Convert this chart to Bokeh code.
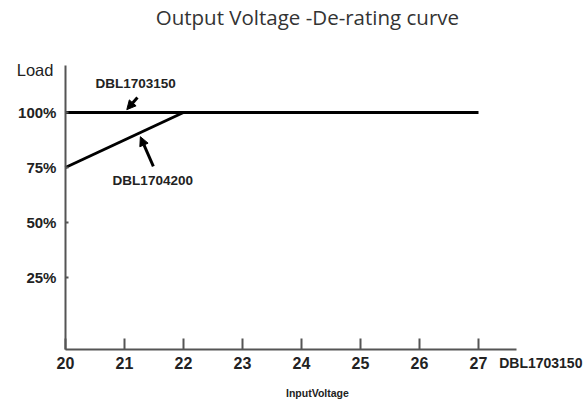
from bokeh.plotting import figure
from bokeh.models import Range1d, Label, Arrow, NormalHead, FixedTicker
from bokeh.embed import file_html
from bokeh.resources import INLINE

# ---- data ----
x_ticks = [20, 21, 22, 23, 24, 25, 26, 27]
y_ticks = [25, 50, 75, 100]
y_tick_labels = ["25%", "50%", "75%", "100%"]

v_1703150 = [20, 27]
load_1703150 = [100, 100]
v_1704200 = [20, 22]
load_1704200 = [75, 100]

title_text = "Output Voltage -De-rating curve"
x_title = "InputVoltage"
y_title = "Load"
FONT = "Liberation Sans"

X0, X1 = 20, 27.64     # drawn extent of x axis
Y0, Y1 = -7.7, 121.4   # drawn extent of y axis

W, H = 586, 402
p = figure(width=W, height=H, output_backend="svg", toolbar_location=None,
           x_range=Range1d(18.9, 28.83), y_range=Range1d(-31.8, 150.9),
           min_border=0)
p.background_fill_color = "white"
p.border_fill_color = "white"
p.outline_line_color = None
p.grid.visible = False

# axes placed inside the frame
p.xaxis.fixed_location = Y0
p.xaxis.bounds = (X0, X1)
p.yaxis.fixed_location = X0
p.yaxis.bounds = (Y0, Y1)

for ax in (p.xaxis[0], p.yaxis[0]):
    ax.axis_line_color = "#555555"
    ax.axis_line_width = 2
    ax.major_tick_line_color = "#555555"
    ax.major_tick_line_width = 2
    ax.minor_tick_line_color = None
    ax.major_tick_out = 0
    ax.major_label_text_font = FONT
    ax.major_label_text_font_style = "bold"
    ax.major_label_text_color = "#222222"

p.xaxis.ticker = FixedTicker(ticks=x_ticks)
p.xaxis.major_tick_in = 11
p.xaxis.major_label_text_font_size = "16px"
p.xaxis.major_label_standoff = 8

p.yaxis.ticker = FixedTicker(ticks=y_ticks)
p.yaxis.major_label_overrides = {t: l for t, l in zip(y_ticks, y_tick_labels)}
p.yaxis.major_tick_in = 3
p.yaxis.major_label_text_font_size = "15px"
p.yaxis.major_label_standoff = 9

# curves
p.line(v_1703150, load_1703150, line_color="black", line_width=3)
p.line(v_1704200, load_1704200, line_color="black", line_width=3)

# annotations
def lab(text, x, y, size, align="left", xo=0, yo=0, style="bold", font=FONT,
        color="#222222"):
    p.add_layout(Label(x=x, y=y, text=text, text_font=font, text_font_size=size,
                       text_font_style=style, text_color=color,
                       text_align=align, text_baseline="middle",
                       x_offset=xo, y_offset=yo))

lab(title_text, 24.1, 143.6, "20.5px", align="center", style="normal",
    font="Open Sans", color="#333333")
lab(y_title, X0, 119.1, "16.5px", align="right", xo=-12, style="normal")
lab("DBL1703150", 20.51, 113.2, "13.5px")
lab("DBL1704200", 20.8, 69.1, "13.5px")
lab("DBL1703150", 27.35, Y0, "14px", yo=-14)
lab(x_title, 24.27, Y0, "10.5px", align="center", yo=-44)

p.add_layout(Arrow(end=NormalHead(size=9, fill_color="black", line_color="black"),
                   x_start=21.22, y_start=106.8, x_end=21.04, y_end=101.3,
                   line_color="black", line_width=3))
p.add_layout(Arrow(end=NormalHead(size=9, fill_color="black", line_color="black"),
                   x_start=21.49, y_start=75.5, x_end=21.27, y_end=89.0,
                   line_color="black", line_width=3))

open("out.html", "w").write(file_html(p, INLINE))
